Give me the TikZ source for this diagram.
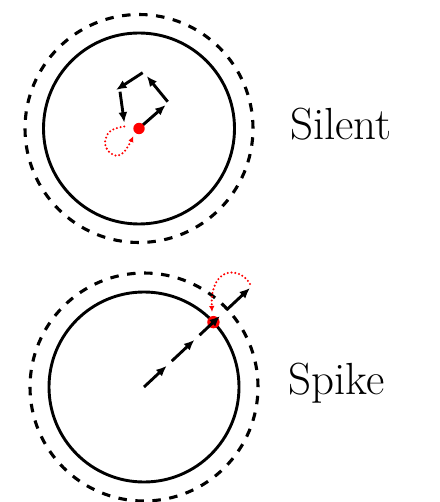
\documentclass[tikz,border=0pt]{standalone}
\usetikzlibrary{arrows.meta,calc}
\begin{document}
\begin{tikzpicture}[x=1pt,y=-1pt,
  solidring/.style={line width=2.9pt},
  dashring/.style={line width=3.1pt,dash pattern=on 8.5pt off 8.55pt},
  walk/.style={line width=2.9pt,-{Latex[length=10.5pt,width=9pt]}},
  redpath/.style={red,line width=2.3pt,line cap=round,dash pattern=on 0pt off 3.8pt,-{Latex[length=6pt,width=5.5pt]}},
  reddot/.style={fill=red,draw=none},
  lbl/.style={inner sep=0pt,anchor=base west,font=\fontsize{45}{50}\selectfont}]
\useasboundingbox (0,0) rectangle (439,502);
% ---- Silent ----
\coordinate (c1) at (139,128.5);
\draw[solidring] (c1) circle[radius=95.5pt];
\draw[dashring] (c1) circle[radius=114pt];
\coordinate (a0) at (141.7,126);
\coordinate (a1) at (165.7,105);
\coordinate (b0) at (167.7,101.7);
\coordinate (b1) at (146.7,76);
\coordinate (d0) at (142.7,72.7);
\coordinate (d1) at (116,90);
\coordinate (f0) at (120,91.7);
\coordinate (f1) at (124.3,122.7);
\draw[walk] (a0) -- (a1);
\draw[walk] (b0) -- (b1);
\draw[walk] (d0) -- (d1);
\draw[walk] (f0) -- (f1);
\draw[redpath] plot[smooth,tension=0.8] coordinates {(124.3,126.5) (112,130) (106,138) (106,147) (112,154) (120,155) (127,148) (133.3,136)};
\fill[reddot] (c1) circle[radius=5.7pt];
\node[lbl] (silent) at (290,140) {Silent};
% ---- Spike ----
\coordinate (c2) at (144,387);
\coordinate (e) at (250,288);
\draw[solidring] (c2) circle[radius=95pt];
\draw[dashring] (c2) circle[radius=114pt];
\fill[reddot] ($(c2)!0.655!(e)$) circle[radius=6.2pt];
\coordinate (s0) at (c2);
\coordinate (s1) at ($(c2)!0.214!(e)$);
\coordinate (s2) at ($(c2)!0.262!(e)$);
\coordinate (s3) at ($(c2)!0.476!(e)$);
\coordinate (s4) at ($(c2)!0.524!(e)$);
\coordinate (s5) at ($(c2)!0.717!(e)$);
\coordinate (s6) at ($(c2)!0.779!(e)$);
\draw[walk] (s0) -- (s1);
\draw[walk] (s2) -- (s3);
\draw[walk] (s4) -- (s5);
\draw[walk] (s6) -- (e);
\coordinate (r0) at (250,284);
\coordinate (r1) at (212,312);
\draw[redpath] (r0) .. controls (240,266) and (210,266) .. (r1);
\node[lbl] (spike) at (288,394) {Spike};
\end{tikzpicture}
\end{document}
